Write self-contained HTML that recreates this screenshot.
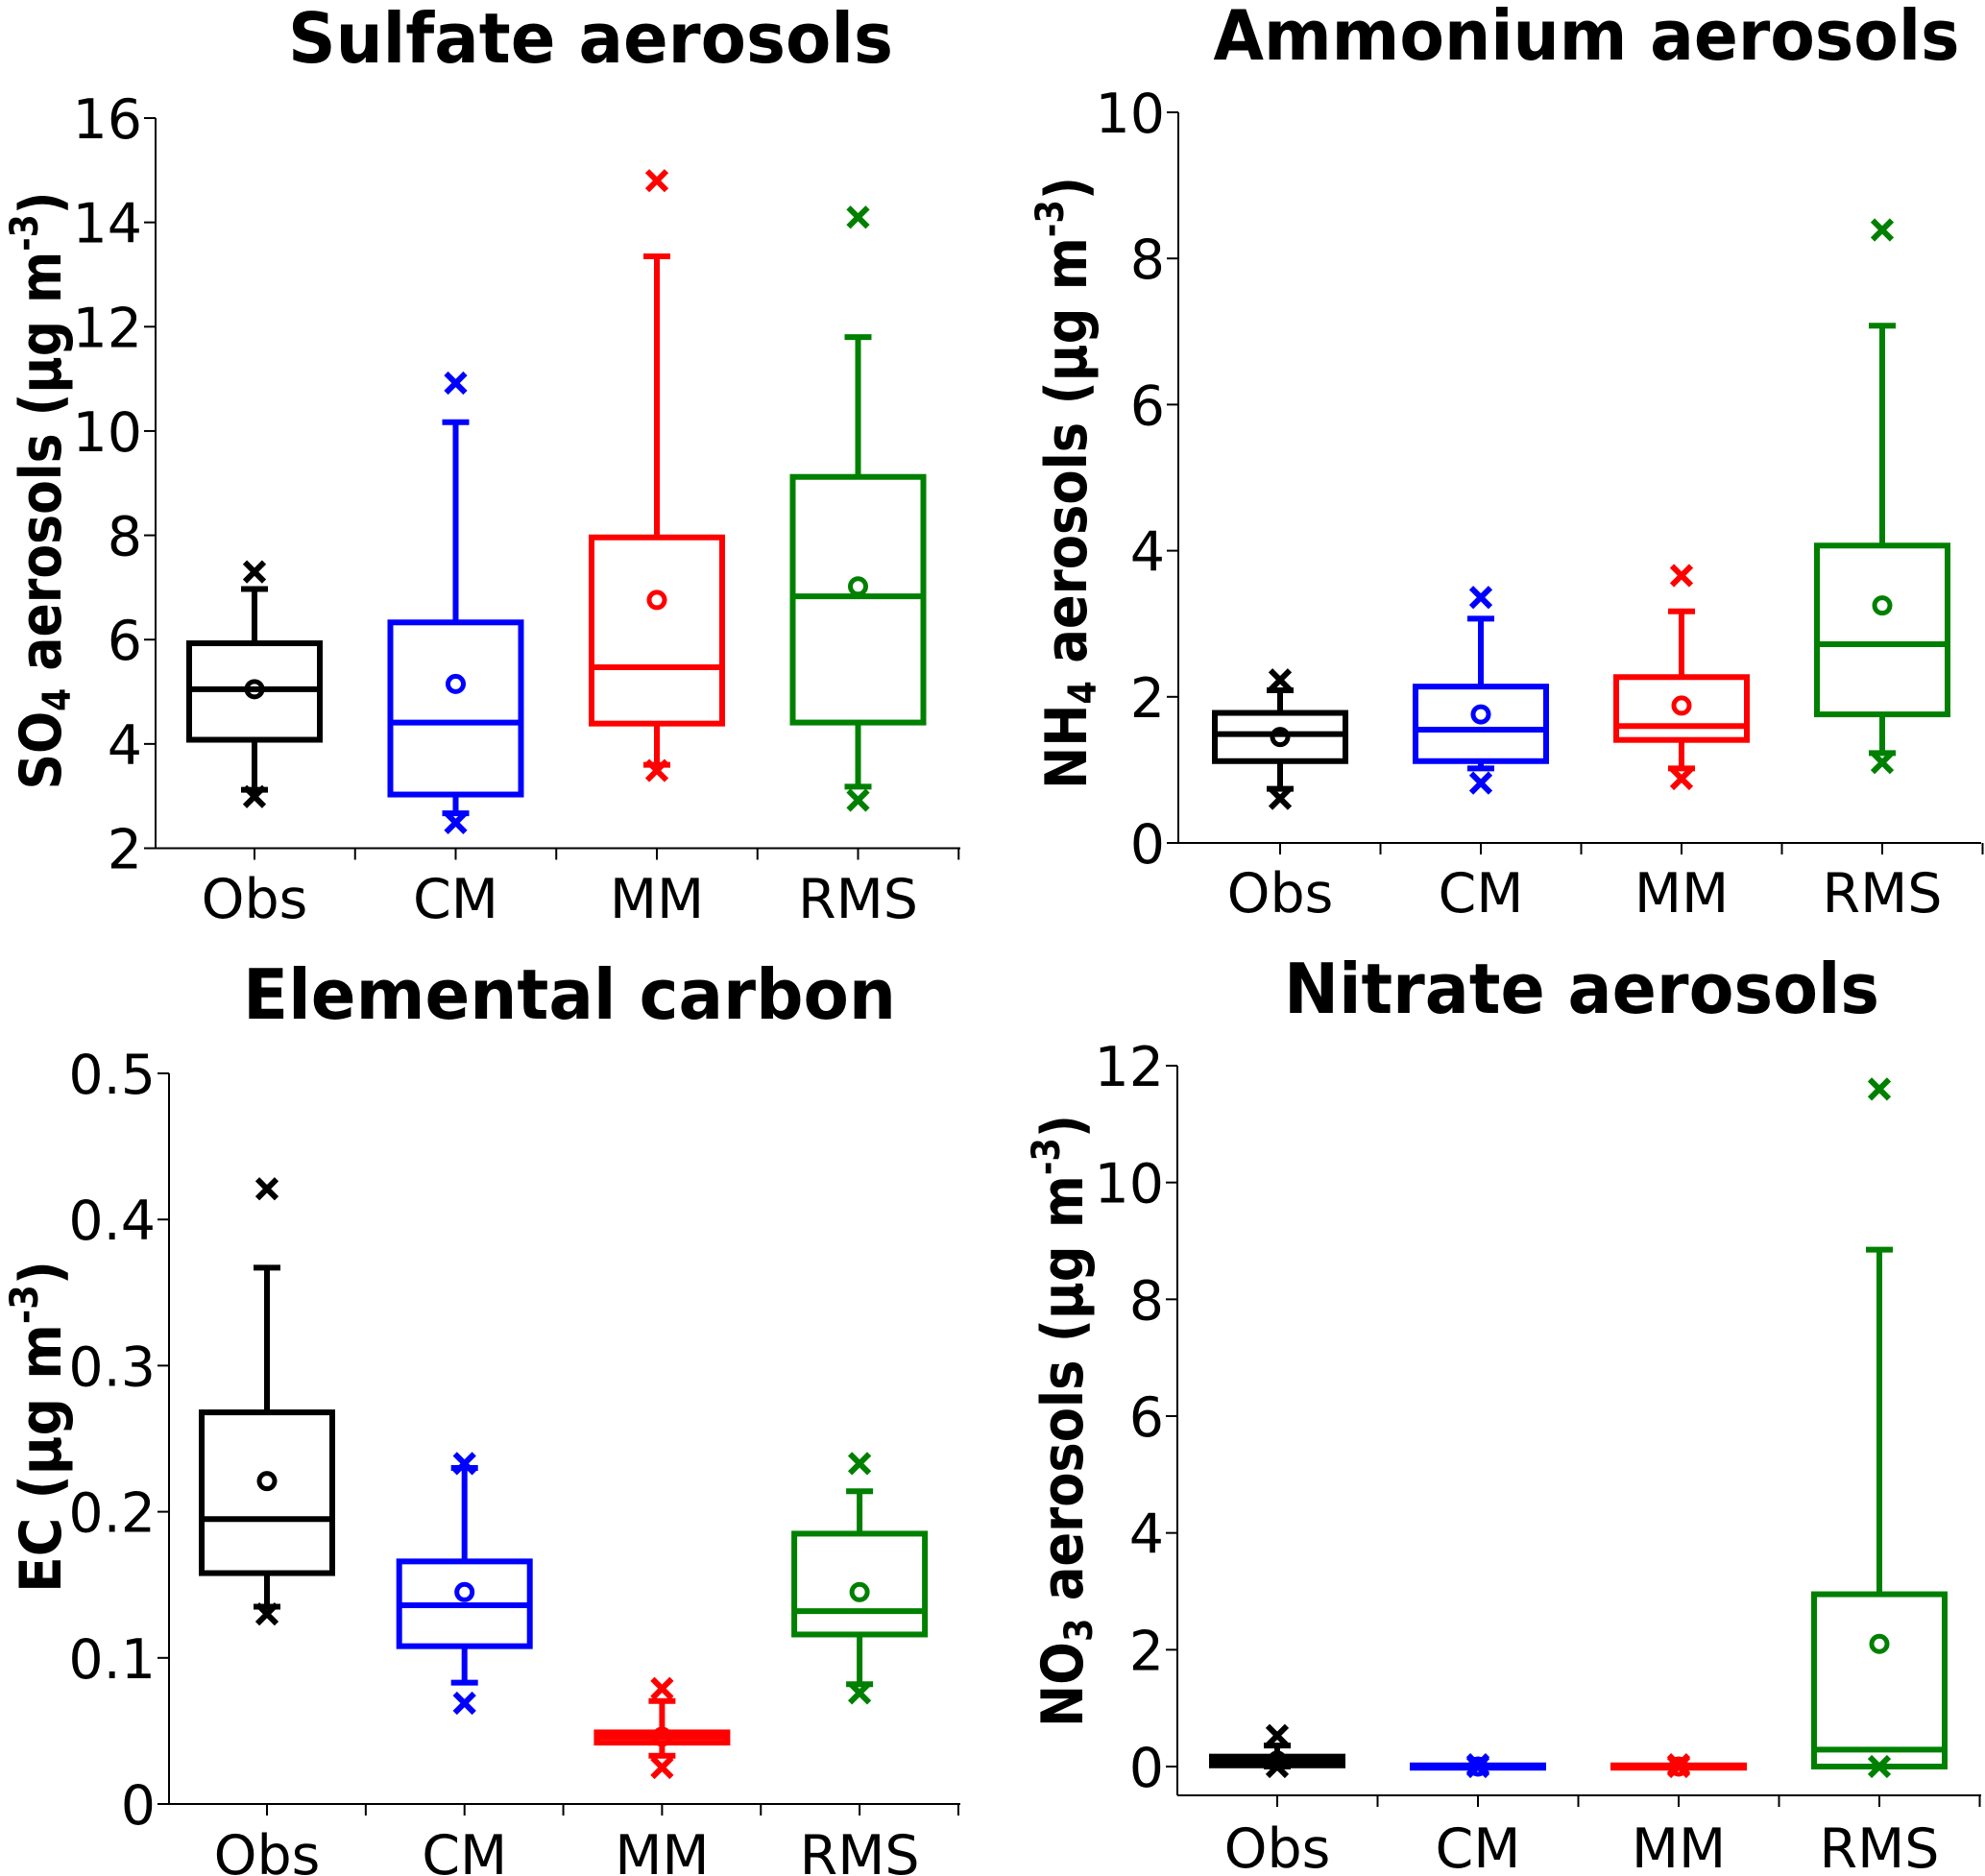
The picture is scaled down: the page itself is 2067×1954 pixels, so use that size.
<!DOCTYPE html>
<html><head><meta charset="utf-8"><style>
html,body{margin:0;padding:0;background:#fff;}
svg{display:block;font-family:"DejaVu Sans","Liberation Sans",sans-serif;}
</style></head><body>
<svg id="chart" width="2067" height="1954" viewBox="0 0 2067 1954" xmlns="http://www.w3.org/2000/svg"></svg>
<script>
const categories = ["Obs","CM","MM","RMS"];
const colors = ["#000000","#0000ff","#ff0000","#008000"];

// Sulfate (SO4)
const so4Low = [3.12, 2.67, 3.6, 3.18];
const so4Q1 = [4.08, 3.03, 4.39, 4.41];
const so4Med = [5.05, 4.41, 5.47, 6.83];
const so4Q3 = [5.93, 6.33, 7.96, 9.12];
const so4High = [6.97, 10.17, 13.35, 11.8];
const so4Mean = [5.05, 5.15, 6.76, 7.02];
const so4OutHigh = [7.3, 10.92, 14.8, 14.1];
const so4OutLow = [2.99, 2.49, 3.49, 2.92];
const so4Ticks = [2,4,6,8,10,12,14,16];

// Ammonium (NH4)
const nh4Low = [0.74, 1.02, 1.02, 1.23];
const nh4Q1 = [1.12, 1.12, 1.41, 1.76];
const nh4Med = [1.49, 1.55, 1.6, 2.72];
const nh4Q3 = [1.78, 2.14, 2.27, 4.07];
const nh4High = [2.09, 3.07, 3.17, 7.08];
const nh4Mean = [1.45, 1.76, 1.88, 3.25];
const nh4OutHigh = [2.23, 3.36, 3.66, 8.39];
const nh4OutLow = [0.61, 0.82, 0.88, 1.1];
const nh4Ticks = [0,2,4,6,8,10];

// Elemental carbon (EC)
const ecLow = [0.135, 0.083, 0.033, 0.082];
const ecQ1 = [0.158, 0.108, 0.042, 0.116];
const ecMed = [0.195, 0.136, 0.046, 0.132];
const ecQ3 = [0.268, 0.166, 0.049, 0.185];
const ecHigh = [0.367, 0.23, 0.0705, 0.214];
const ecMean = [0.221, 0.145, 0.046, 0.145];
const ecOutHigh = [0.421, 0.233, 0.079, 0.233];
const ecOutLow = [0.13, 0.069, 0.025, 0.076];
const ecTicks = [0,0.1,0.2,0.3,0.4,0.5];

// Nitrate (NO3)
const no3Low = [0.0, 0.0, 0.0, 0.0];
const no3Q1 = [0.02, -0.02, -0.02, 0.0];
const no3Med = [0.1, 0.0, 0.0, 0.29];
const no3Q3 = [0.17, 0.02, 0.02, 2.95];
const no3High = [0.36, 0.0, 0.0, 8.85];
const no3Mean = [0.1, 0.0, 0.0, 2.1];
const no3OutHigh = [0.53, 0.03, 0.03, 11.6];
const no3OutLow = [0.0, 0.0, 0.0, 0.0];
const no3Ticks = [0,2,4,6,8,10,12];

const NS = "http://www.w3.org/2000/svg";
const svg = document.getElementById('chart');
function mk(tag, attrs, parent){
  const e = document.createElementNS(NS, tag);
  for (const k in attrs) e.setAttribute(k, attrs[k]);
  (parent||svg).appendChild(e);
  return e;
}

function panel(p, d){
  const g = mk('g', {});
  
  
  const yScale = v => p.y0px + (v - p.v0) * (p.y1px - p.y0px) / (p.v1 - p.v0);
  const xScale = i => p.c0 + i * p.dc;
  const t = mk('text', {x: p.tx, y: p.ty, 'text-anchor':'middle', 'font-size':72, 'font-weight':'bold', textLength:p.tw, lengthAdjust:'spacingAndGlyphs'}, g);
  t.textContent = p.title;
  
  
  const yl = mk('text', {x:0, y:0, transform:`translate(${p.lx},${p.ly}) rotate(-90)`, 'text-anchor':'middle', 'font-size':60, 'font-weight':'bold', textLength:p.ll, lengthAdjust:'spacingAndGlyphs'}, g);
  yl.innerHTML = p.ylabel;
  
  
  const ya = mk('line', {x1:p.ax, y1:yScale(p.ticks[p.ticks.length-1]), x2:p.ax, y2:p.axisY, stroke:'#000','stroke-width':2}, g);
  
  
  const xa = mk('line', {x1:p.ax, y1:p.axisY, x2:p.axEnd, y2:p.axisY, stroke:'#000','stroke-width':2}, g);
  
  
  p.ticks.forEach(v => {
    const y = yScale(v);
    mk('line', {x1:p.ax-12, y1:y, x2:p.ax, y2:y, stroke:'#000','stroke-width':2}, g);
    const tl = mk('text', {x:p.ax-14, y:y+21, 'text-anchor':'end','font-size':57}, g);
    tl.textContent = String(v);
    
    
  });
  categories.forEach((c, i) => {
    const x = xScale(i);
    mk('line', {x1:x, y1:p.axisY, x2:x, y2:p.axisY+12, stroke:'#000','stroke-width':2}, g);
    mk('line', {x1:x+p.dc/2, y1:p.axisY, x2:x+p.dc/2, y2:p.axisY+12, stroke:'#000','stroke-width':2}, g);
    const xl = mk('text', {x:x, y:p.lblY, 'text-anchor':'middle','font-size':57}, g);
    xl.textContent = c;
    
    
  });
  categories.forEach((c, i) => {
    const x = xScale(i), col = colors[i], hw = 68, sw = 6;
    const bg = mk('g', {stroke:col, 'stroke-width':sw, fill:'none'}, g);
    
    
    const q1 = yScale(d.q1[i]), q3 = yScale(d.q3[i]);
    const top = Math.min(q1,q3), h = Math.abs(q1-q3);
    mk('line', {x1:x, y1:yScale(d.high[i]), x2:x, y2:top}, bg);
    mk('line', {x1:x-14, y1:yScale(d.high[i]), x2:x+14, y2:yScale(d.high[i])}, bg);
    mk('line', {x1:x, y1:yScale(d.low[i]), x2:x, y2:top+h}, bg);
    mk('line', {x1:x-14, y1:yScale(d.low[i]), x2:x+14, y2:yScale(d.low[i])}, bg);
    mk('rect', {x:x-hw, y:top, width:hw*2, height:h, fill:'#fff'}, bg);
    mk('line', {x1:x-hw, y1:yScale(d.med[i]), x2:x+hw, y2:yScale(d.med[i])}, bg);
    mk('circle', {cx:x, cy:yScale(d.mean[i]), r:8, 'stroke-width':5}, bg);
    [d.outHigh[i], d.outLow[i]].forEach(v => {
      const y = yScale(v), s = 10;
      mk('path', {d:`M${x-s},${y-s}L${x+s},${y+s}M${x-s},${y+s}L${x+s},${y-s}`}, bg);
    });
  });
}

panel({name:'sulfate', title:'Sulfate  aerosols', tx:615, ty:65, tw:630,
  ylabel:'SO<tspan font-size="40" dy="10">4</tspan><tspan dy="-10"> aerosols (μg m</tspan><tspan font-size="40" dy="-24">-3</tspan><tspan dy="24">)</tspan>',
  lx:63, ly:511, ll:623, v0:2, v1:16, y0px:883.5, y1px:123, ax:162, axEnd:1000, axisY:883.5, c0:265, dc:209.5, lblY:956, ticks:so4Ticks},
  {low:so4Low,q1:so4Q1,med:so4Med,q3:so4Q3,high:so4High,mean:so4Mean,outHigh:so4OutHigh,outLow:so4OutLow});

panel({name:'ammonium', title:'Ammonium  aerosols', tx:1652, ty:62, tw:777,
  ylabel:'NH<tspan font-size="40" dy="10">4</tspan><tspan dy="-10"> aerosols (μg m</tspan><tspan font-size="40" dy="-24">-3</tspan><tspan dy="24">)</tspan>',
  lx:1131, ly:503, ll:638, v0:0, v1:10, y0px:878, y1px:117, ax:1227, axEnd:2063, axisY:878, c0:1333, dc:209, lblY:950, ticks:nh4Ticks},
  {low:nh4Low,q1:nh4Q1,med:nh4Med,q3:nh4Q3,high:nh4High,mean:nh4Mean,outHigh:nh4OutHigh,outLow:nh4OutLow});

panel({name:'elemental-carbon', title:'Elemental carbon', tx:593, ty:1061, tw:680,
  ylabel:'EC (μg m<tspan font-size="40" dy="-24">-3</tspan><tspan dy="24">)</tspan>',
  lx:63, ly:1486, ll:346, v0:0, v1:0.5, y0px:1879, y1px:1118, ax:176, axEnd:1000, axisY:1879, c0:278, dc:205.7, lblY:1952, ticks:ecTicks},
  {low:ecLow,q1:ecQ1,med:ecMed,q3:ecQ3,high:ecHigh,mean:ecMean,outHigh:ecOutHigh,outLow:ecOutLow});

panel({name:'nitrate', title:'Nitrate aerosols', tx:1647, ty:1055, tw:620,
  ylabel:'NO<tspan font-size="40" dy="10">3</tspan><tspan dy="-10"> aerosols (μg m</tspan><tspan font-size="40" dy="-24">-3</tspan><tspan dy="24">)</tspan>',
  lx:1127, ly:1480, ll:638, v0:0, v1:12, y0px:1840, y1px:1110, ax:1226, axEnd:2063, axisY:1870, c0:1330, dc:209, lblY:1945, ticks:no3Ticks},
  {low:no3Low,q1:no3Q1,med:no3Med,q3:no3Q3,high:no3High,mean:no3Mean,outHigh:no3OutHigh,outLow:no3OutLow});
</script>
</body></html>
